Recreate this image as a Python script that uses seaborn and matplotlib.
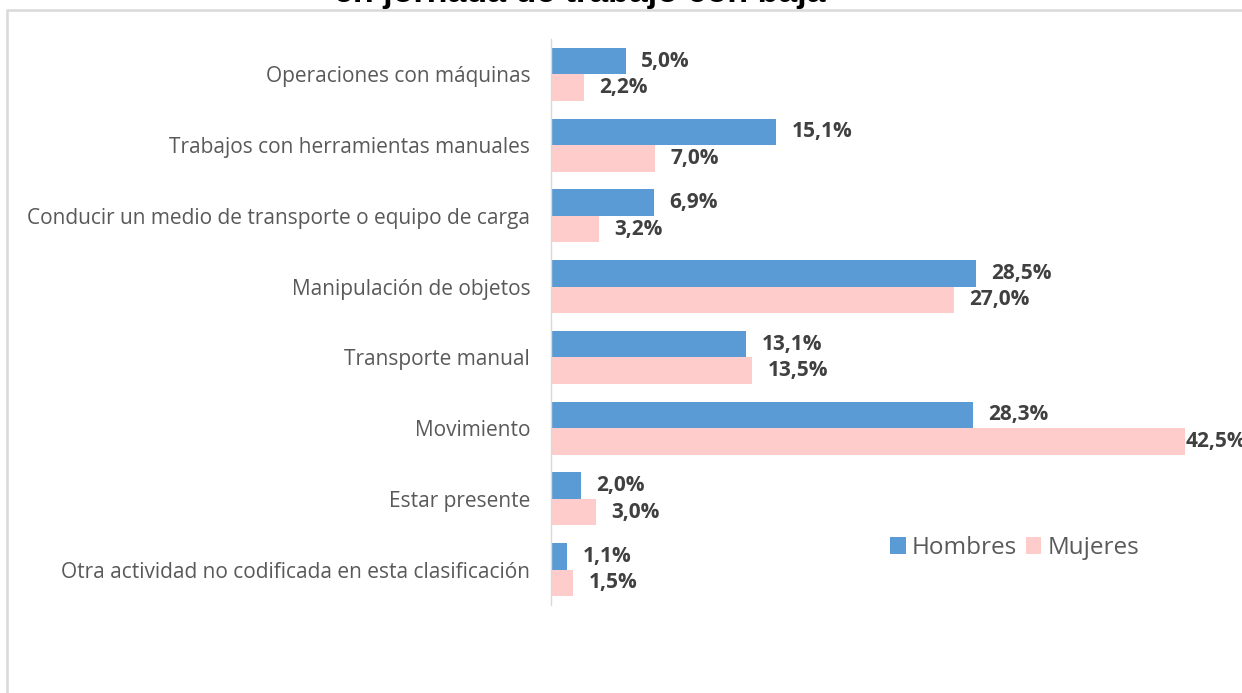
import pandas as pd
import seaborn as sns
import matplotlib.pyplot as plt
from matplotlib.patches import Rectangle

actividades = ["Operaciones con máquinas",
               "Trabajos con herramientas manuales",
               "Conducir un medio de transporte o equipo de carga",
               "Manipulación de objetos",
               "Transporte manual",
               "Movimiento",
               "Estar presente",
               "Otra actividad no codificada en esta clasificación"]
hombres = [5.0, 15.1, 6.9, 28.5, 13.1, 28.3, 2.0, 1.1]
mujeres = [2.2, 7.0, 3.2, 27.0, 13.5, 42.5, 3.0, 1.5]
sexos = ["Hombres", "Mujeres"]
colores = ["#5B9BD5", "#FFCCCC"]

datos = pd.DataFrame({
    "actividad": actividades * 2,
    "sexo": [sexos[0]] * len(actividades) + [sexos[1]] * len(actividades),
    "valor": hombres + mujeres,
})

sns.set_style("white")
plt.rcParams['font.family'] = ['Open Sans', 'DejaVu Sans']

W, H = 1242, 693
fig = plt.figure(figsize=(W / 100, H / 100), dpi=100)
ax = fig.add_axes([551 / W, 1 - 605 / H, 671 / W, (605 - 39) / H])

sns.barplot(data=datos, x="valor", y="actividad", hue="sexo", order=actividades,
            hue_order=sexos, palette=colores, orient="h", width=0.75,
            saturation=1, ax=ax, errorbar=None, linewidth=0)

ax.set_xlim(0, 45)
ax.set_ylim(7.5, -0.5)
ax.set_xlabel("")
ax.set_ylabel("")
ax.set_xticks([])
ax.tick_params(axis="y", length=0, pad=15, labelsize=15, labelcolor="#595959")
for s in ["top", "right", "bottom"]:
    ax.spines[s].set_visible(False)
ax.spines["left"].set_color("#D9D9D9")
ax.spines["left"].set_linewidth(1)

for cont in ax.containers:
    textos = ax.bar_label(cont, labels=[("%.1f%%" % b.get_width()).replace(".", ",") for b in cont],
                          padding=11, fontsize=15, fontweight="bold", color="#404040", clip_on=False)
    # la etiqueta de la barra más larga va pegada a la barra (como en Excel)
    for b, t in zip(cont, textos):
        if b.get_width() > 40:
            t.xyann = (0.5, 0)

leg = ax.legend(loc="center left", bbox_to_anchor=(868 / W, 1 - 548 / H),
                bbox_transform=fig.transFigure, ncol=2, frameon=False, fontsize=17.5,
                handlelength=0.65, handleheight=0.65, handletextpad=0.25, columnspacing=0.35,
                labelcolor="#595959")

# marco del gráfico y título recortado
fig.patches.append(Rectangle((7 / W, -0.1), 1.2, 1 - 9.5 / H + 0.1, transform=fig.transFigure,
                             fill=False, edgecolor="#D9D9D9", linewidth=1.8))
fig.text(580 / W, 1 - 2 / H, "en jornada de trabajo con baja", ha="center", va="baseline",
         fontsize=24.5, fontweight="bold", color="black", family=["Liberation Sans", "DejaVu Sans"])

plt.savefig("out.png", dpi=100)
